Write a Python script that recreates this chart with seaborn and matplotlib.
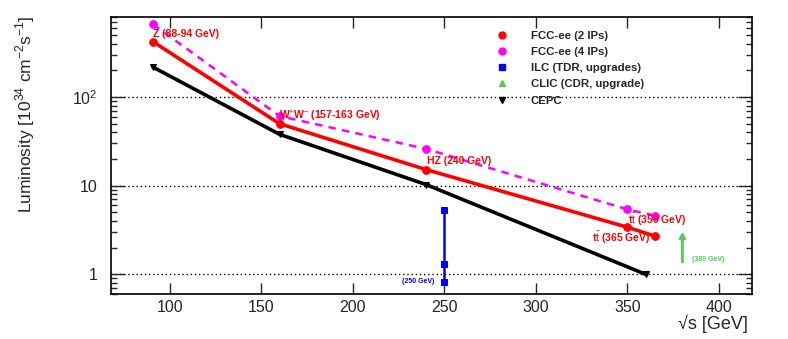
import numpy as np
import pandas as pd
import seaborn as sns
import matplotlib.pyplot as plt
from matplotlib.lines import Line2D
from matplotlib.ticker import FixedLocator, LogLocator, NullFormatter, FixedFormatter

# data
fcc2_ecm = [91, 160, 240, 350, 365]
fcc2_lumi = [420, 50, 15.2, 3.4, 2.7]
fcc4_ecm = [91, 160, 240, 350, 365]
fcc4_lumi = [660, 61, 26, 5.4, 4.6]
cepc_ecm = [91, 160, 240, 360]
cepc_lumi = [217, 38, 10.3, 1.0]
ilc_ecm = [250, 250, 250]
ilc_lumi = [0.81, 1.32, 5.3]
clic_ecm = [380]
clic_lumi = [1.38, 3.05]   # from -> to (arrow)

sns.set_theme(style="ticks")
plt.rcParams['font.family'] = ['Liberation Sans', 'DejaVu Sans']
plt.rcParams['mathtext.fontset'] = 'custom'
plt.rcParams['mathtext.rm'] = 'Liberation Sans'
plt.rcParams['mathtext.bf'] = 'Liberation Sans:bold'

fig = plt.figure(figsize=(7.88, 3.39), dpi=100)
ax = fig.add_axes([0.1409, 0.1327, 0.8134, 0.8172])

# dotted grid at decades
for v in [1, 10, 100]:
    ax.axhline(v, color='black', ls=(0, (1, 2)), lw=1, zorder=0)

# CEPC
sns.lineplot(x=cepc_ecm, y=cepc_lumi, ax=ax, color='black', lw=2.6, sort=False,
             marker='v', markersize=4.5, markeredgecolor='black', zorder=3)
# FCC-ee 4 IPs
sns.lineplot(x=fcc4_ecm, y=fcc4_lumi, ax=ax, color='#ff00ff', lw=1.8, sort=False,
             linestyle=(0, (3, 2.5)), marker='o', markersize=5.5, markeredgecolor='#ff00ff', zorder=4)
# FCC-ee 2 IPs
sns.lineplot(x=fcc2_ecm, y=fcc2_lumi, ax=ax, color='#ff0000', lw=2.6, sort=False,
             marker='o', markersize=5.5, markeredgecolor='#ff0000', zorder=5)
# ILC
sns.lineplot(x=ilc_ecm, y=ilc_lumi, ax=ax, color='#0000ff', lw=1.8, sort=False,
             marker='s', markersize=4.5, markeredgecolor='#0000ff', zorder=5,
             estimator=None)
# CLIC arrow
ax.annotate('', xy=(clic_ecm[0], clic_lumi[1]), xytext=(clic_ecm[0], clic_lumi[0]),
            arrowprops=dict(arrowstyle='-|>', color='#55cc55', lw=2, mutation_scale=8,
                            shrinkA=0, shrinkB=0), zorder=5)

ax.set_xscale('linear')
ax.set_yscale('log')
ax.set_xlim(68, 418)
ax.set_ylim(0.6, 800)

# labels
red = '#ff0000'
kw = dict(fontweight='bold', va='center', zorder=7)
ax.text(90.7, 515, 'Z (88-94 GeV)', color=red, fontsize=7.5, **kw)
ax.text(159.5, 61, r'W$^{+}$W$^{-}$ (157-163 GeV)', color=red, fontsize=7.5, **kw)
ax.text(240.7, 18.9, 'HZ (240 GeV)', color=red, fontsize=7.5, **kw)
ax.text(350.4, 4.07, r't$\bar{\mathrm{t}}$ (350 GeV)', color=red, fontsize=7.5, **kw)
ax.text(330.8, 2.55, r't$\bar{\mathrm{t}}$ (365 GeV)', color=red, fontsize=7.5, **kw)
ax.text(385.3, 1.48, '(380 GeV)', color='#55cc55', fontsize=5, **kw)
ax.text(244.6, 0.83, '(250 GeV)', color='#0000ff', fontsize=5, ha='right', **kw)

# ticks, ROOT style
ax.xaxis.set_major_locator(FixedLocator([100, 150, 200, 250, 300, 350, 400]))
ax.yaxis.set_major_locator(FixedLocator([1, 10, 100]))
ax.yaxis.set_major_formatter(FixedFormatter(['1', '10', r'10$^{2}$']))
ax.yaxis.set_minor_locator(LogLocator(base=10, subs=np.arange(2, 10)))
ax.yaxis.set_minor_formatter(NullFormatter())
ax.tick_params(which='both', direction='in', top=True, right=True, labelsize=11.5, width=1)
ax.tick_params(which='major', length=8)
ax.tick_params(which='minor', length=4)
ax.tick_params(axis='y', which='major', length=10, pad=10)
ax.tick_params(axis='x', which='major', pad=4)
for s in ax.spines.values():
    s.set_linewidth(1.2)
    s.set_color('black')

fig.text(25 / 788, 1 - 15 / 339, r'Luminosity [10$^{34}$ cm$^{-2}$s$^{-1}$]', fontsize=12.5,
         rotation=90, ha='center', va='top')
fig.text(748 / 788, 1 - 324 / 339, '√s [GeV]', fontsize=13, ha='right', va='center')

handles = [
    Line2D([], [], ls='none', marker='o', color='#ff0000', markersize=5),
    Line2D([], [], ls='none', marker='o', color='#ff00ff', markersize=5),
    Line2D([], [], ls='none', marker='s', color='#0000ff', markersize=4),
    Line2D([], [], ls='none', marker='^', color='#55cc55', markersize=4),
    Line2D([], [], ls='none', marker='v', color='black', markersize=4),
]
labels = ['FCC-ee (2 IPs)', 'FCC-ee (4 IPs)', 'ILC (TDR, upgrades)',
          'CLIC (CDR, upgrade)', 'CEPC']
leg = fig.legend(handles, labels, loc='upper left', bbox_to_anchor=(0.617, 0.94),
                 frameon=False, handlelength=1, handletextpad=2.0,
                 labelspacing=0.55, prop={'weight': 'bold', 'size': 8.2})

fig.savefig('out.png', dpi=100)
